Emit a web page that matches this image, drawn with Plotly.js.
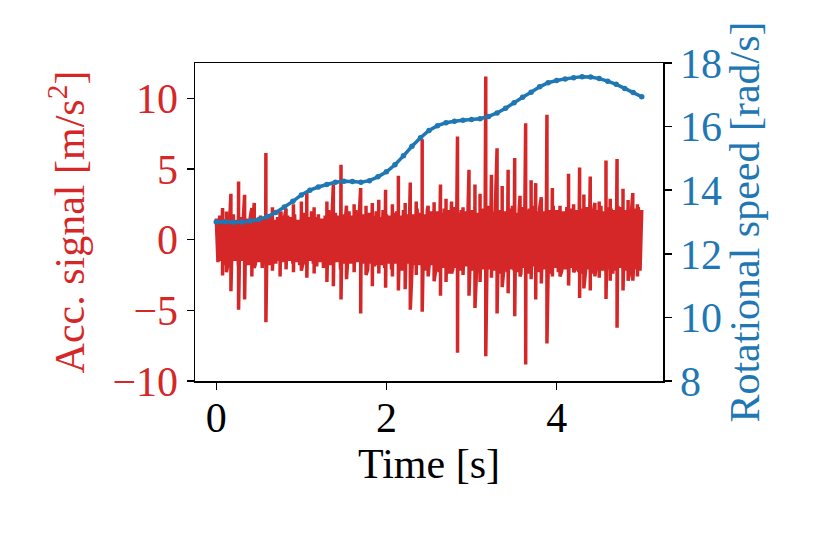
<!DOCTYPE html>
<html>
<head>
<meta charset="utf-8">
<script src="https://cdn.plot.ly/plotly-3.0.1.min.js"></script>
<style>html,body{margin:0;padding:0;background:#fff;}#chart{width:821px;height:539px;}</style>
</head>
<body>
<div id="chart"></div>
<script>
// Acceleration band samples (every 0.02 s from 0 to 5 s)
const accStep = 0.02;
const bandValues = [
 1.5,-1.6,1.7,-1.5,1.4,-1.8,1.5,-1.6,1.6,-1.5,
 1.8,-1.5,1.4,-1.9,1.6,-1.5,1.7,-1.6,1.5,-1.8,
 1.6,-1.5,1.9,-1.7,1.4,-1.6,1.7,-2.0,1.5,-1.5,
 1.6,-1.8,1.8,-1.5,1.4,-1.7,1.6,-1.5,2.0,-1.6,
 1.5,-1.9,1.7,-1.5,1.6,-1.7,1.8,-1.6,1.4,-1.8,
 1.7,-1.6,1.9,-1.8,1.6,-1.5,2.0,-1.7,1.6,-1.9,
 1.8,-1.6,1.5,-2.0,1.7,-1.6,2.1,-1.8,1.6,-1.7,
 1.9,-1.6,1.7,-2.1,1.8,-1.7,1.6,-1.9,2.0,-1.7,
 1.7,-1.8,2.1,-1.6,1.7,-2.0,1.8,-1.7,1.6,-2.1,
 1.9,-1.7,1.7,-1.9,2.0,-1.8,1.6,-1.8,2.1,-2.0,
 1.8,-1.7,1.7,-2.1,1.9,-1.7,2.0,-1.8,1.7,-2.2,
 2.1,-1.9,1.8,-1.7,2.0,-2.1,1.8,-1.8,2.2,-1.8,
 1.9,-2.0,1.8,-2.2,2.1,-1.9,2.0,-1.8,2.3,-2.1,
 2.0,-2.3,1.9,-2.0,2.2,-1.9,2.1,-2.4,1.9,-2.1,
 2.3,-2.0,1.9,-2.2,2.1,-2.3,2.0,-1.9,2.4,-2.1,
 2.1,-2.2,2.3,-2.0,1.9,-2.4,2.2,-2.1,2.0,-2.3,
 2.4,-2.1,2.0,-2.2,2.3,-1.9,2.1,-2.4,2.2,-2.0,
 2.0,-2.3,2.2,-2.1,2.4,-2.2,1.9,-2.3,2.1,-2.4,
 2.3,-2.0,2.1,-2.4,2.2,-2.1,2.4,-1.9,2.0,-2.3,
 2.2,-2.4,2.0,-2.1,2.3,-2.2,2.1,-2.4,2.4,-2.0,
 2.1,-2.3,2.4,-2.2,2.0,-2.1,2.3,-2.4,2.2,-2.0,
 2.4,-2.1,2.1,-2.3,2.2,-2.4,2.0,-2.2,2.3,-2.1,
 2.2,-2.4,2.3,-2.0,2.1,-2.3,2.4,-2.2,2.0,-2.4,
 2.3,-2.1,2.2,-2.4,2.1,-2.2,2.4,-2.0,2.3,-2.3,
 2.1,-2.2,2.4,-2.3,2.0,-2.4,2.2,-2.1,2.3,-2.2,
 2.1
];
// Impulse spikes: time, peak high, peak low
const spikeTimes = [0.074,0.12,0.172,0.262,0.333,0.418,0.446,0.583,0.66,0.75,0.82,0.907,1.0,1.064,1.15,1.30,1.376,1.466,1.53,1.62,1.697,1.76,1.834,1.91,1.99,2.07,2.14,2.22,2.28,2.35,2.42,2.49,2.56,2.635,2.70,2.765,2.835,2.9,2.97,3.04,3.10,3.167,3.234,3.30,3.36,3.43,3.507,3.57,3.636,3.70,3.754,3.82,3.886,3.95,4.04,4.14,4.20,4.27,4.32,4.395,4.45,4.50,4.58,4.63,4.71,4.78,4.84,4.895,4.95];
const spikeHigh = [2.24,2.0,3.25,4.12,3.18,2.24,2.6,6.13,2.3,2.0,2.2,2.5,2.7,3.3,2.3,2.7,3.9,5.3,2.4,2.5,3.65,2.4,2.6,2.83,3.53,2.5,4.52,2.6,4.05,2.7,7.1,2.4,2.64,3.9,2.9,2.7,7.3,2.3,4.95,3.9,3.25,11.54,4.6,6.47,3.8,4.95,5.77,3.1,8.24,4.2,4.0,3.0,8.83,3.65,2.4,4.66,2.5,5.1,3.2,4.47,2.6,2.7,5.6,2.9,5.7,3.6,2.8,3.3,2.5];
const spikeLow = [-2.54,-2.3,-3.65,-4.95,-4.24,-2.6,-2.0,-5.84,-2.2,-2.6,-2.1,-2.3,-2.2,-2.7,-2.4,-3.0,-3.3,-4.24,-2.8,-2.3,-5.23,-2.5,-3.3,-2.4,-3.4,-2.6,-3.6,-3.5,-4.95,-2.5,-5.1,-2.6,-2.95,-3.96,-3.0,-2.4,-8.0,-2.5,-3.96,-4.83,-3.0,-8.24,-2.7,-5.23,-3.35,-3.8,-5.42,-2.6,-8.83,-2.8,-4.24,-3.1,-7.35,-2.6,-2.6,-3.25,-2.3,-4.12,-3.45,-3.6,-2.6,-2.7,-4.2,-2.9,-6.24,-3.6,-2.9,-2.9,-2.6];

// Rotational speed
const speedTime = [0.0,0.1,0.2,0.3,0.4,0.5,0.6,0.7,0.8,0.9,1.0,1.1,1.2,1.3,1.4,1.5,1.6,1.7,1.8,1.9,2.0,2.1,2.2,2.3,2.4,2.5,2.6,2.7,2.8,2.9,3.0,3.1,3.2,3.3,3.4,3.5,3.6,3.7,3.8,3.9,4.0,4.1,4.2,4.3,4.4,4.5,4.6,4.7,4.8,4.9,5.0];
const speedValues = [13.00,13.01,12.99,13.00,13.03,13.08,13.17,13.30,13.47,13.65,13.85,14.00,14.10,14.18,14.25,14.28,14.27,14.25,14.30,14.42,14.58,14.80,15.08,15.38,15.65,15.88,16.03,16.12,16.17,16.20,16.22,16.25,16.32,16.43,16.58,16.75,16.92,17.08,17.25,17.38,17.45,17.50,17.54,17.57,17.56,17.51,17.43,17.33,17.20,17.07,16.94];

const xTicks = [0,2,4];
const yTicks = [-10,-5,0,5,10];
const y2Ticks = [8,10,12,14,16,18];

const RED = '#d62728', BLUE = '#1f77b4';
const FONT = 'Liberation Serif, Times New Roman, serif';
const FS = 42;

const pts = [];
bandValues.forEach((v,i)=>pts.push([i*accStep, v]));
spikeTimes.forEach((t,k)=>{pts.push([t, spikeHigh[k]]); pts.push([t+0.0001, spikeLow[k]]);});
pts.sort((a,b)=>a[0]-b[0]);

const accTrace = {
  x: pts.map(p=>p[0]), y: pts.map(p=>p[1]),
  type:'scatter', mode:'lines', line:{color:RED, width:3.5, simplify:false}, yaxis:'y', hoverinfo:'skip'
};
const speedTrace = {
  x: speedTime, y: speedValues, type:'scatter', mode:'lines+markers',
  line:{color:BLUE, width:3.5, simplify:false}, marker:{color:BLUE, size:5.5}, yaxis:'y2', hoverinfo:'skip'
};

const layout = {
  width:821, height:539,
  margin:{l:195, r:158, t:63, b:158},
  paper_bgcolor:'#fff', plot_bgcolor:'#fff',
  showlegend:false,
  font:{family:FONT, size:FS, color:'#000'},
  xaxis:{
    range:[-0.25,5.25], tickvals:xTicks, ticktext:xTicks.map(String),
    ticks:'outside', ticklen:7, tickwidth:1.5, tickcolor:'#000',
    ticklabelstandoff:-8,
    showline:true, linecolor:'#000', linewidth:1.5, mirror:true,
    showgrid:false, zeroline:false,
    tickfont:{family:FONT, size:FS, color:'#000'},
    title:{text:'Time [s]', font:{family:FONT, size:FS, color:'#000'}, standoff:2}
  },
  yaxis:{
    range:[-10,12.5], tickvals:yTicks, ticktext:yTicks.map(v=>v<0?'\u2212'+Math.abs(v):String(v)),
    ticks:'outside', ticklen:7, tickwidth:1.5, tickcolor:'#000',
    showline:true, linecolor:'#000', linewidth:1.5,
    showgrid:false, zeroline:false,
    tickfont:{family:FONT, size:FS, color:RED},
    title:{text:'Acc. signal [m/s<sup>2</sup>]', font:{family:FONT, size:FS, color:RED}, standoff:14}
  },
  yaxis2:{
    range:[8,18], tickvals:y2Ticks, ticktext:y2Ticks.map(String),
    overlaying:'y', side:'right',
    ticks:'outside', ticklen:7, tickwidth:1.5, tickcolor:'#000',
    showline:true, linecolor:'#000', linewidth:1.5,
    showgrid:false, zeroline:false,
    tickfont:{family:FONT, size:FS, color:BLUE},
    title:{text:'Rotational speed [rad/s]', font:{family:FONT, size:FS, color:BLUE}, standoff:8}
  }
};

Plotly.newPlot('chart', [accTrace, speedTrace], layout, {staticPlot:true, displayModeBar:false});
</script>
</body>
</html>
